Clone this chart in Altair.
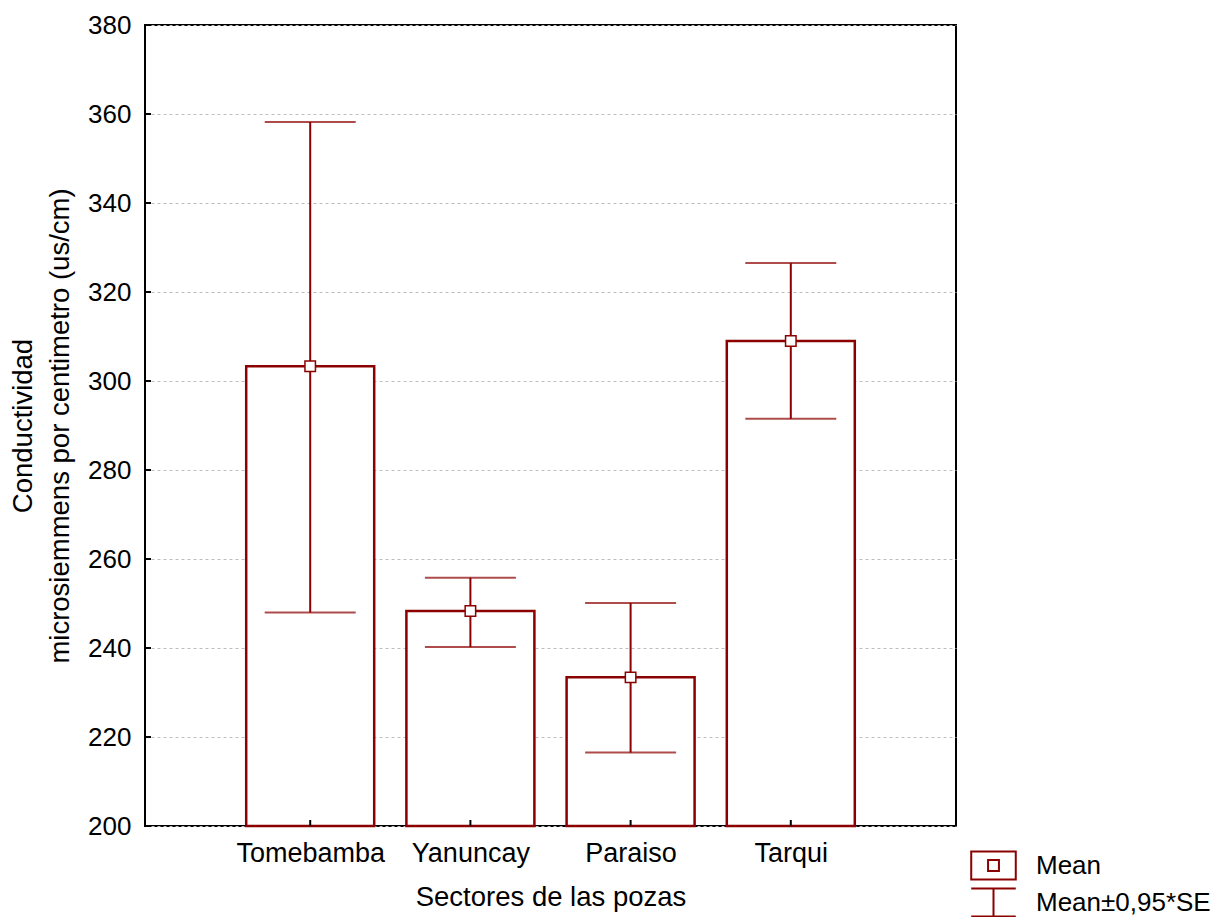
import altair as alt
import pandas as pd

sectors = ["Tomebamba", "Yanuncay", "Paraiso", "Tarqui"]
positions = [1, 2, 3, 4]
means = [303.3, 248.3, 233.4, 309.0]
lower = [248.0, 240.2, 216.5, 291.5]
upper = [358.2, 255.8, 250.1, 326.5]
y_ticks = [200, 220, 240, 260, 280, 300, 320, 340, 360, 380]
legend_labels = ["Mean", "Mean\u00b10,95*SE"]

RED = "#8B0000"
FONT = "Liberation Sans"
W, H = 811, 801

df = pd.DataFrame({"sector": sectors, "pos": positions, "mean": means,
                   "lo": lower, "hi": upper})
ticks_df = pd.DataFrame({"t": y_ticks})
leg_df = pd.DataFrame({"item": legend_labels})

label_expr = ("datum.value == 1 ? 'Tomebamba' : datum.value == 2 ? 'Yanuncay' : "
              "datum.value == 3 ? 'Paraiso' : datum.value == 4 ? 'Tarqui' : ''")

x_enc = alt.X("pos:Q", scale=alt.Scale(domain=[0, 5], nice=False, zero=False),
              axis=alt.Axis(values=positions, labelExpr=label_expr, grid=False,
                            ticks=False, domain=False, labelFontSize=27,
                            labelFont=FONT, labelColor="black", labelPadding=14,
                            title="Sectores de las pozas", titleFontSize=27.5,
                            titleFont=FONT, titleFontWeight="normal",
                            titleColor="black", titlePadding=17),
              )
y_scale = alt.Scale(domain=[200, 380], nice=False, zero=False)
y_axis = alt.Axis(values=y_ticks, grid=True, gridDash=[3, 3], gridColor="#bdbdbd",
                  gridWidth=1, ticks=False, domain=False, labelFontSize=26,
                  labelFont=FONT, labelColor="black", labelPadding=14,
                  title=["Conductividad", "microsiemmens por centimetro (us/cm)"],
                  titleFontSize=27.5, titleFont=FONT, titleFontWeight="normal",
                  titleColor="black", titlePadding=13, titleLineHeight=37)

base = alt.Chart(df)

bars = base.mark_bar(size=128, fill="white", stroke=RED, strokeWidth=2.5).encode(
    x=x_enc,
    y=alt.Y("mean:Q", scale=y_scale, axis=y_axis),
    y2=alt.datum(200),
)

err = base.mark_rule(color=RED, strokeWidth=2).encode(
    x="pos:Q", y="lo:Q", y2="hi:Q")

cap_lo = base.mark_tick(color=RED, orient="horizontal", size=91, thickness=2).encode(
    x="pos:Q", y="lo:Q")
cap_hi = base.mark_tick(color=RED, orient="horizontal", size=91, thickness=2).encode(
    x="pos:Q", y="hi:Q")

pts = base.mark_point(shape="square", size=110, filled=True, fill="white",
                      stroke=RED, strokeWidth=1.5, opacity=1).encode(
    x="pos:Q", y="mean:Q")

ytick_marks = alt.Chart(ticks_df).mark_rule(color="black", strokeWidth=2).encode(
    y="t:Q", x=alt.value(0), x2=alt.value(6))

xtick_marks = alt.Chart(pd.DataFrame({"p": positions})).mark_rule(
    color="black", strokeWidth=2).encode(
    x="p:Q", y=alt.value(H), y2=alt.value(H - 6))

path_mean = "M-1.35,-0.85H1.35V0.85H-1.35Z M-0.33,-0.33H0.33V0.33H-0.33Z"
path_err = "M-1.35,-0.85H1.35 M0,-0.85V0.85 M-1.35,0.85H1.35"

legend_layer = alt.Chart(leg_df).mark_point(opacity=0, filled=False, color=RED).encode(
    shape=alt.Shape("item:N",
                    scale=alt.Scale(domain=legend_labels, range=[path_mean, path_err]),
                    legend=alt.Legend(title=None, orient="none", legendX=831,
                                      legendY=823, symbolSize=1089,
                                      symbolStrokeColor=RED, symbolStrokeWidth=2,
                                      symbolFillColor="white", symbolOpacity=1,
                                      labelFontSize=26, labelFont=FONT,
                                      labelColor="black", labelOffset=25,
                                      labelLimit=400, rowPadding=0, padding=0)),
)

chart = alt.layer(bars, err, cap_lo, cap_hi, pts, ytick_marks, xtick_marks,
                  legend_layer).properties(
    width=W, height=H,
    background="white",
    autosize=alt.AutoSizeParams(type="none"),
    padding={"left": 145, "top": 25, "right": 261, "bottom": 91},
).configure_view(stroke="black", strokeWidth=2)

chart.save("out.html", embed_options={"renderer": "svg", "actions": False})
